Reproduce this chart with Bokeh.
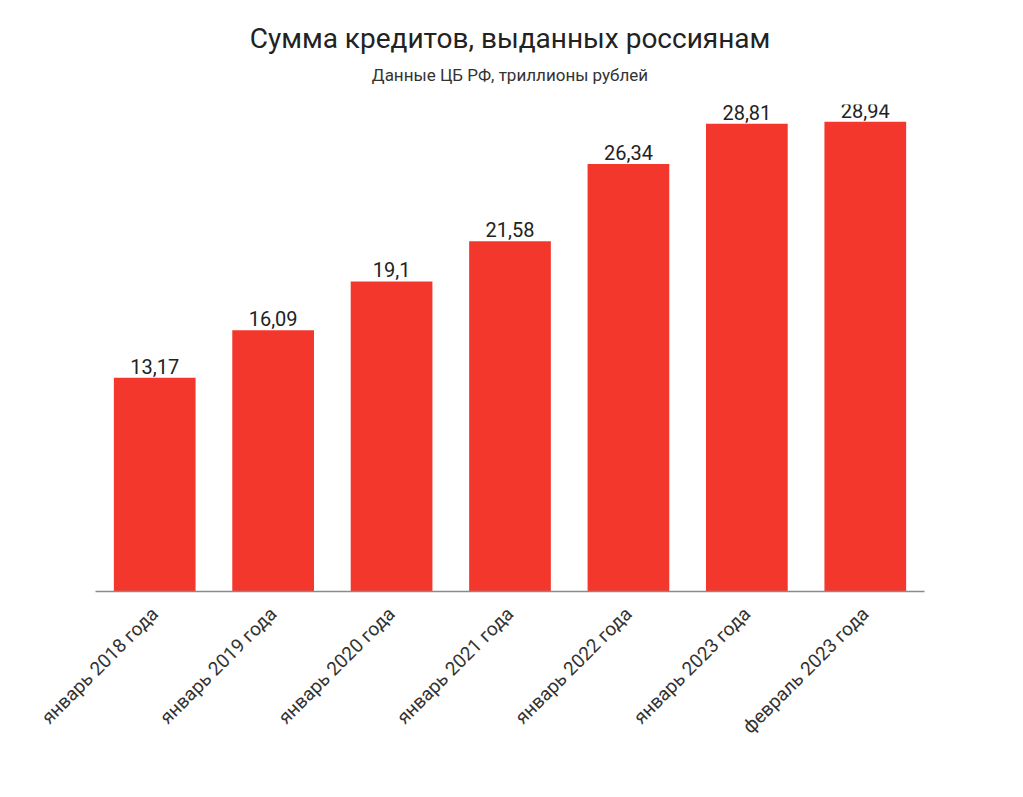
import math
from bokeh.plotting import figure
from bokeh.models import ColumnDataSource, Range1d, LabelSet, Title
from bokeh.core.properties import value
from bokeh.embed import file_html
from bokeh.resources import INLINE

categories = ["январь 2018 года", "январь 2019 года", "январь 2020 года",
              "январь 2021 года", "январь 2022 года", "январь 2023 года",
              "февраль 2023 года"]
values = [13.17, 16.09, 19.1, 21.58, 26.34, 28.81, 28.94]
value_labels = ["13,17", "16,09", "19,1", "21,58", "26,34", "28,81", "28,94"]

FONT = "Roboto"
RED = "#f4372d"

source = ColumnDataSource(data=dict(cat=categories, val=values, lab=value_labels))

p = figure(width=1007, height=783, x_range=categories, y_range=Range1d(0, 30.0),
           output_backend="svg", toolbar_location=None, title=None,
           min_border_left=95, min_border_right=83, min_border_top=104,
           min_border_bottom=192)

p.vbar(x="cat", top="val", width=0.69, source=source, color=RED, line_color=None)

labels = LabelSet(x="cat", y="val", text="lab", source=source, y_offset=4,
                  text_align="center", text_baseline="bottom",
                  text_font=value(FONT), text_font_size=value("20px"),
                  text_color=value("#222222"))
p.add_layout(labels)

spacer = Title(text=" ", align="center", text_font=FONT, text_font_size="8px",
               standoff=0)
p.add_layout(spacer, "above")
sub = Title(text="Данные ЦБ РФ, триллионы рублей", align="center",
            text_font=FONT, text_font_size="17px", text_font_style="normal",
            text_color="#333333", standoff=17)
p.add_layout(sub, "above")
main = Title(text="Сумма кредитов, выданных россиянам", align="center",
             text_font=FONT, text_font_size="28px", text_font_style="normal",
             text_color="#222222", standoff=0)
p.add_layout(main, "above")

p.yaxis.visible = False
p.xgrid.visible = False
p.ygrid.visible = False
p.outline_line_color = None

ax = p.xaxis[0]
ax.major_label_orientation = math.pi / 4
ax.major_label_text_font = FONT
ax.major_label_text_font_size = "19px"
ax.major_label_text_color = "#333333"
ax.major_tick_line_color = None
ax.minor_tick_line_color = None
ax.axis_line_color = "#8a8a8a"
ax.axis_line_width = 1.5
ax.major_label_standoff = 13

open("out.html", "w").write(file_html(p, INLINE))
